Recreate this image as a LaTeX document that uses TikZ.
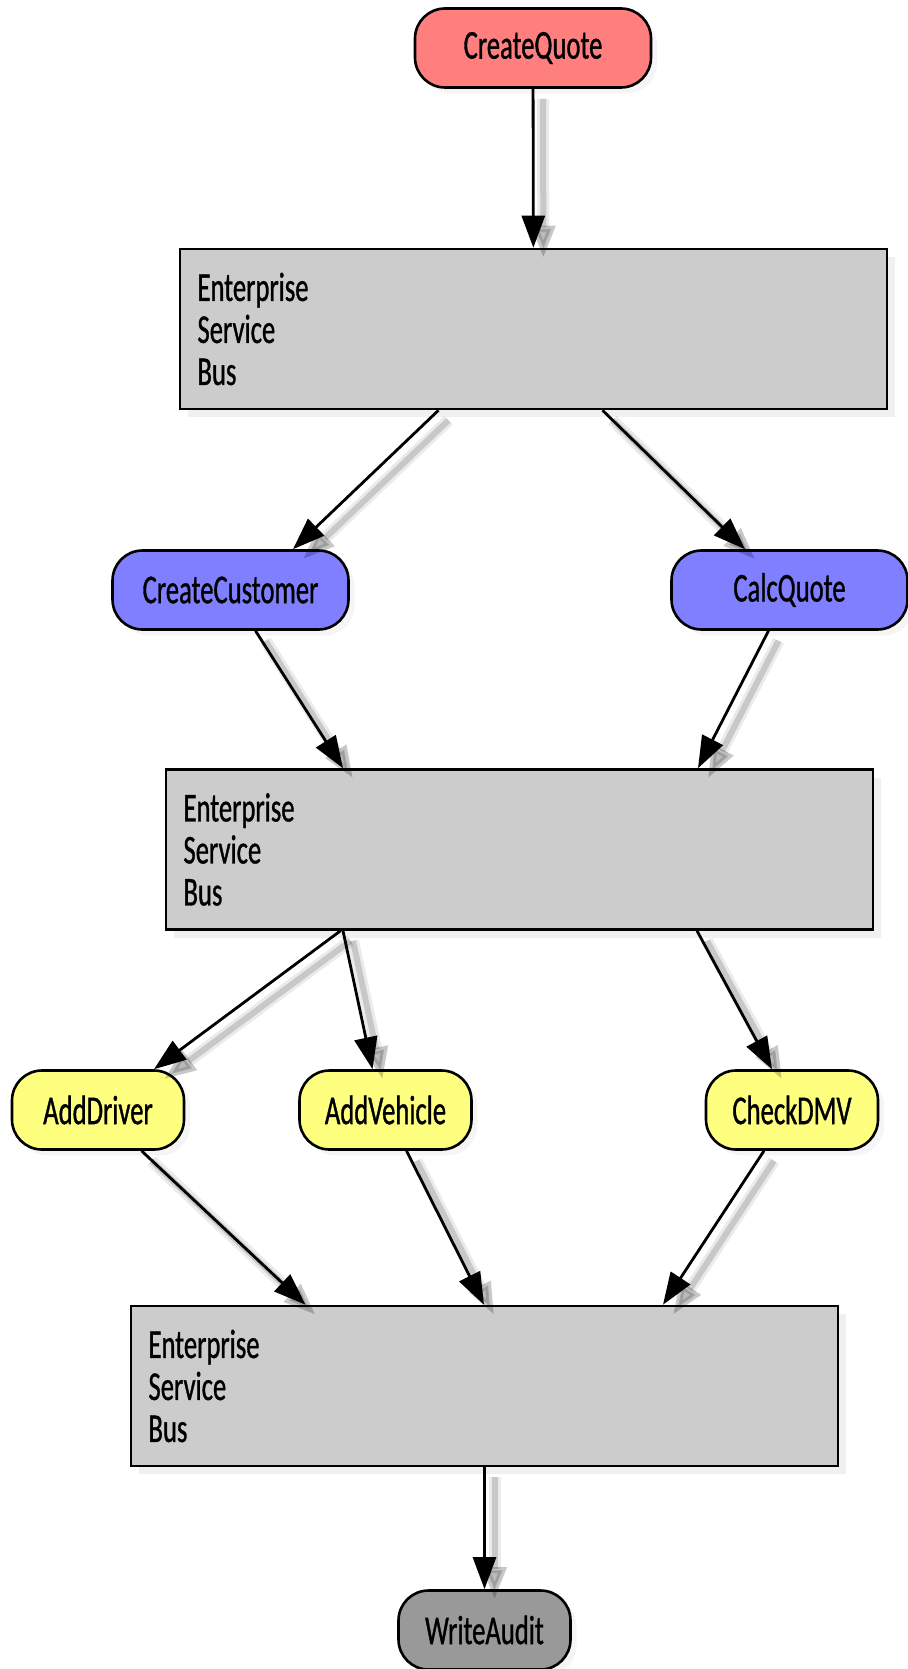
\documentclass[tikz,border=0pt]{standalone}
\usepackage{fontspec}
\setmainfont[FakeStretch=0.65, FakeBold=0.8]{Carlito}
\usetikzlibrary{arrows.meta,shadows}

\definecolor{quoteRed}{HTML}{FF7F7F}
\definecolor{svcBlue}{HTML}{7F7FFF}
\definecolor{svcYellow}{HTML}{FFFF7F}
\definecolor{busGray}{HTML}{CCCCCC}
\definecolor{auditGray}{HTML}{999999}

\begin{document}
\begin{tikzpicture}[
  x=0.5pt, y=-0.5pt,
  font=\fontsize{20.5pt}{21pt}\selectfont,
  svc/.style={draw, line width=1.3pt, rounded corners=15pt,
              minimum height=39.5pt, inner sep=2pt,
              drop shadow={shadow xshift=3pt, shadow yshift=-3pt, opacity=0.08}},
  wide/.style={svc, minimum width=118pt},
  narrow/.style={svc, minimum width=86pt},
  bus/.style={draw, line width=1.3pt, fill=busGray, minimum width=353.5pt,
              minimum height=80pt, text width=336pt, align=left, inner xsep=8.5pt,
              drop shadow={shadow xshift=4pt, shadow yshift=-4pt, opacity=0.12}},
  arr/.style={-{Triangle[length=16pt, width=11.5pt]}, line width=1.4pt,
              preaction={draw=black, opacity=0.08, line width=6pt,
                         transform canvas={shift={(5pt,-5pt)}}},
              preaction={draw=black, opacity=0.15, line width=3pt,
                         transform canvas={shift={(5pt,-5pt)}}}},
]
\useasboundingbox (0,0) rectangle (908,1669);

\node[wide, fill=quoteRed] (cq) at (533,48) {CreateQuote};
\node[bus] (esb1) at (533.5,329) {Enterprise\\Service\\Bus};
\node[wide, fill=svcBlue] (cc) at (230.5,590) {CreateCustomer};
\node[wide, fill=svcBlue] (calc) at (789.5,590) {CalcQuote};
\node[bus] (esb2) at (519.5,849.5) {Enterprise\\Service\\Bus};
\node[narrow, fill=svcYellow] (ad) at (98,1110) {AddDriver};
\node[narrow, fill=svcYellow] (av) at (385.5,1110) {AddVehicle};
\node[narrow, fill=svcYellow] (dmv) at (792,1110) {CheckDMV};
\node[bus] (esb3) at (484.5,1386) {Enterprise\\Service\\Bus};
\node[narrow, fill=auditGray] (wa) at (484.5,1630) {WriteAudit};

% quote request onto the first bus
\draw[arr] (cq) -- (esb1);

\draw[arr] ([xshift=-47.5pt]esb1.south) -- ([xshift=31.25pt]cc.north);
\draw[arr] ([xshift=34.5pt]esb1.south) -- ([xshift=-22.25pt]calc.north);

\draw[arr] ([xshift=12.5pt]cc.south) -- ([xshift=-88.25pt]esb2.north);
\draw[arr] ([xshift=-10.5pt]calc.south) -- ([xshift=89.25pt]esb2.north);

\draw[arr] ([xshift=-89.5pt]esb2.south) -- ([xshift=28pt]ad.north);
\draw[arr] ([xshift=-88.25pt]esb2.south) -- ([xshift=-6.5pt]av.north);
\draw[arr] ([xshift=88.75pt]esb2.south) -- ([xshift=-10pt]dmv.north);

\draw[arr] ([xshift=21.75pt]ad.south) -- ([xshift=-89.5pt]esb3.north);
\draw[arr] ([xshift=10.5pt]av.south) -- ([xshift=-0.25pt]esb3.north);
\draw[arr] ([xshift=-14pt]dmv.south) -- ([xshift=89.25pt]esb3.north);

% audit at the end
\draw[arr] (esb3) -- (wa);
\end{tikzpicture}
\end{document}
